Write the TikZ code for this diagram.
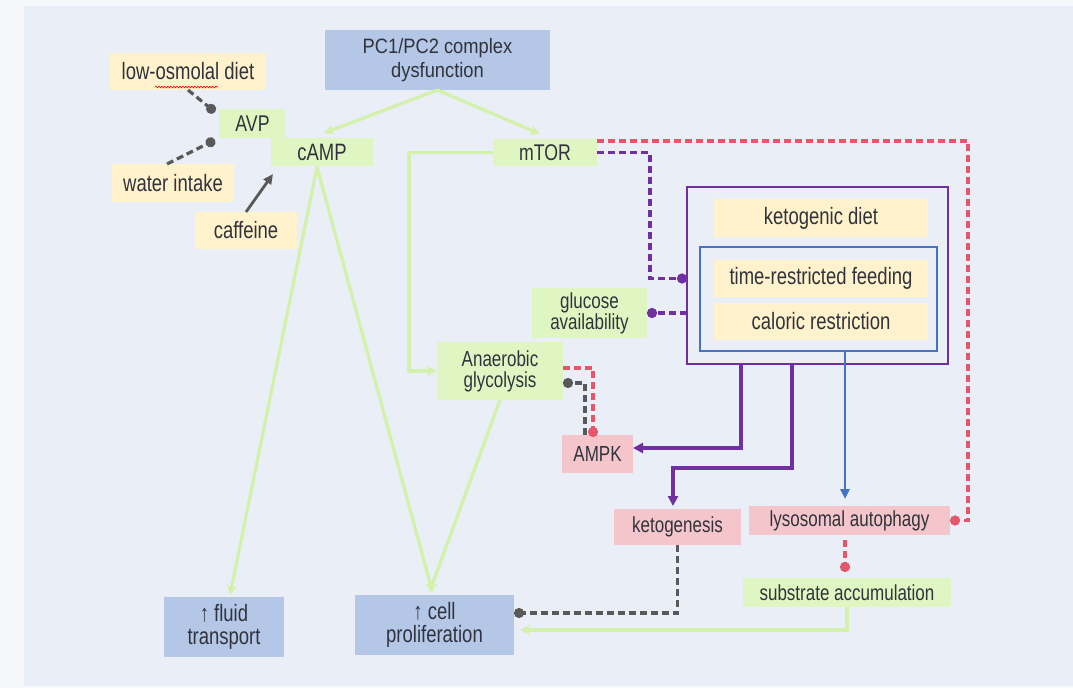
\documentclass[tikz,border=0pt]{standalone}
\usepackage{fontspec}
\setmainfont{Liberation Sans}[FakeStretch=0.78]
\newfontfamily\pcfont{Liberation Sans}[FakeStretch=0.88]
\usetikzlibrary{arrows.meta,decorations.pathmorphing,calc}
\definecolor{pagebg}{HTML}{F6F7FB}
\definecolor{bg}{HTML}{EAEEF7}
\definecolor{bluef}{HTML}{B4C7E7}
\definecolor{yelf}{HTML}{FFF2CC}
\definecolor{grnf}{HTML}{E0F6C2}
\definecolor{pinkf}{HTML}{F4C6CC}
\definecolor{txt}{HTML}{30333C}
\definecolor{gline}{HTML}{D3F1AA}
\definecolor{redd}{HTML}{E5566A}
\definecolor{purp}{HTML}{7030A0}
\definecolor{bluel}{HTML}{4472C4}
\definecolor{grayd}{HTML}{595959}
\begin{document}
\begin{tikzpicture}[x=1pt,y=-1pt,
  box/.style={inner sep=0pt, outer sep=0pt, align=center, text=txt, anchor=north west},
  bigf/.style={font=\fontsize{23.7}{24}\selectfont},
  medf/.style={font=\fontsize{22.7}{22}\selectfont},
  smallf/.style={font=\fontsize{21.8}{21}\selectfont},
  bluebox/.style={box, fill=bluef},
  yelbox/.style={box, fill=yelf},
  grnbox/.style={box, fill=grnf},
  pinkbox/.style={box, fill=pinkf},
  garrow/.style={draw=gline, line width=3.2pt, -{Stealth[length=10pt,width=10pt,inset=3pt]}},
  gdot/.style={draw=grayd, line width=3.2pt, dash pattern=on 7pt off 4pt, -{Circle[length=10pt,width=10pt]}},
  rdot/.style={draw=redd, line width=3.2pt, dash pattern=on 7pt off 4pt, -{Circle[length=10pt,width=10pt]}},
  pdot/.style={draw=purp, line width=3.2pt, dash pattern=on 7pt off 4pt, -{Circle[length=10pt,width=10pt]}},
  parrow/.style={draw=purp, line width=3.2pt, -{Triangle[length=10pt,width=10pt]}},
  barrow/.style={draw=bluel, line width=2.6pt, -{Triangle[length=10pt,width=9pt]}},
]
\useasboundingbox (0,0) rectangle (1073,688);
\fill[pagebg] (0,0) rectangle (1073,688);
\fill[bg] (24,6) rectangle (1073,686);

% nodes
\node[bluebox, font=\pcfont\fontsize{20.8}{24}\selectfont, minimum width=225pt, minimum height=60pt] (pc) at (325,30) {PC1/PC2 complex\\dysfunction};
\node[yelbox, bigf, minimum width=156pt, minimum height=37pt] (lowosm) at (110,53) {low-osmolal diet};
\node[grnbox, medf, minimum width=67pt, minimum height=29pt] (avp) at (219,109) {AVP};
\node[grnbox, bigf, minimum width=102pt, minimum height=28pt] (camp) at (271,138) {cAMP};
\node[yelbox, bigf, minimum width=122pt, minimum height=38pt] (water) at (112,164) {water intake};
\node[yelbox, bigf, minimum width=102pt, minimum height=37pt] (caff) at (195,212) {caffeine};
\node[grnbox, medf, minimum width=104pt, minimum height=27pt] (mtor) at (493,139) {mTOR};
\node[box, draw=purp, line width=2.8pt, minimum width=261pt, minimum height=177pt] (diet) at (687,187) {};
\node[box, draw=bluel, line width=2.4pt, minimum width=237pt, minimum height=104pt] (inner) at (700,247) {};
\node[yelbox, bigf, minimum width=214pt, minimum height=38pt] (keto) at (714,199) {ketogenic diet};
\node[yelbox, bigf, minimum width=214pt, minimum height=37pt] (trf) at (714,260) {time-restricted feeding};
\node[yelbox, bigf, minimum width=214pt, minimum height=37pt] (cr) at (714,303) {caloric restriction};
\node[grnbox, smallf, minimum width=115pt, minimum height=50pt] (gluc) at (532,288) {glucose\\availability};
\node[grnbox, smallf, minimum width=126pt, minimum height=58pt] (glyc) at (437,342) {Anaerobic\\glycolysis};
\node[pinkbox, smallf, minimum width=71pt, minimum height=38pt] (ampk) at (562,435) {AMPK};
\node[pinkbox, smallf, minimum width=127pt, minimum height=36pt] (ketog) at (614,509) {ketogenesis};
\node[pinkbox, smallf, minimum width=201pt, minimum height=29pt] (lyso) at (749,506) {lysosomal autophagy};
\node[grnbox, smallf, minimum width=208pt, minimum height=29pt] (subst) at (743,578) {substrate accumulation};
\node[bluebox, font=\fontsize{23.7}{23}\selectfont, minimum width=120pt, minimum height=60pt] (fluid) at (164,597) {↑ fluid\\transport};
\node[bluebox, font=\fontsize{23.7}{23}\selectfont, minimum width=159pt, minimum height=60pt] (cell) at (355,595) {↑ cell\\proliferation};

% spell-check underline
\draw[red, line width=0.6pt, decorate, decoration={snake, amplitude=0.9pt, segment length=3pt}] (155,87) -- (218,87);

% coordinates
\coordinate (bx) at (845,0);
\coordinate (px) at (650,0);
\coordinate (rc) at (968,141);

% green connectors
\draw[garrow] (pc.south) -- ([xshift=2pt,yshift=5pt]camp.north);
\draw[garrow] (pc.south) -- ([xshift=-5pt,yshift=5pt]mtor.north);
\draw[garrow] (mtor.west) -| ([xshift=-28pt]glyc.west) -- (glyc.west);
\draw[garrow] ([xshift=-5pt,yshift=-1pt]camp.south) -- ([xshift=6pt,yshift=2pt]fluid.north);
\draw[garrow] ([xshift=-5pt,yshift=-1pt]camp.south) -- ([xshift=-2pt,yshift=3pt]cell.north);
\draw[garrow] (glyc.south) -- ([xshift=-5pt,yshift=3pt]cell.north);
\draw[garrow] (subst.south) |- ([xshift=6pt,yshift=-5pt]cell.east);

% gray connectors
\draw[gdot] (lowosm.south) -- ([xshift=-4pt,yshift=-3pt]avp.north west);
\draw[gdot] ([xshift=-6pt]water.north) -- ([xshift=-4pt,yshift=-2pt]avp.south west);
\draw[draw=grayd, line width=2.8pt, -{Triangle[length=10pt,width=9pt]}] (caff.north) -- ([xshift=2pt,yshift=-8pt]camp.south west);
\draw[gdot] ([xshift=-12.5pt]ampk.north) |- ([yshift=-12pt]glyc.east);
\draw[gdot] (ketog.south) |- ([yshift=12pt]cell.east);

% red dashed
\draw[rdot] ([yshift=-2pt]mtor.north east) -- (rc) |- (lyso.east);
\draw[rdot] ([yshift=-26pt]glyc.north east) -| ([xshift=-4.5pt,yshift=-2pt]ampk.north);
\draw[rdot] ($(bx |- lyso.south)+(0,5)$) -- ($(bx |- subst.north)+(0,-6)$);

% purple dashed
\draw[pdot] (mtor.east) -| (px |- trf.west) -- (diet.west |- trf.west);
\draw[pdot] (diet.west |- gluc.east) -- (gluc.east);

% purple / blue solid
\draw[parrow] ([xshift=-76.5pt]diet.south) |- ([yshift=6pt]ampk.east);
\draw[parrow] ([xshift=-25.5pt]diet.south) -- ++(0,104) -| ([xshift=-4.5pt,yshift=3pt]ketog.north);
\draw[barrow] (bx |- inner.south) -- ($(bx |- lyso.north)+(0,-7)$);
\end{tikzpicture}
\end{document}
